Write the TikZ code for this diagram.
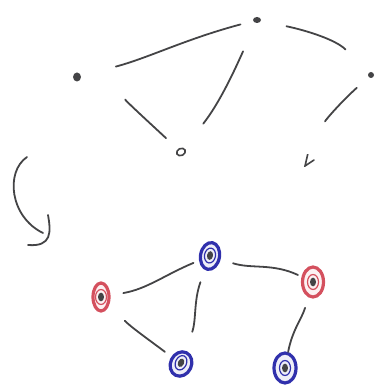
\documentclass[tikz,border=0pt]{standalone}
\usepackage{tikz}
\usetikzlibrary{shapes.geometric}
\definecolor{pencil}{RGB}{68,68,70}
\definecolor{redpen}{RGB}{212,80,94}
\definecolor{bluepen}{RGB}{48,48,172}
\tikzset{
  pen/.style={draw=pencil,line width=1.8pt,line cap=round},
  dot/.style={ellipse,fill=pencil,inner sep=0pt},
  ring/.style={ellipse,draw=#1,line width=3.2pt,inner sep=0pt,fill=#1!8,
    path picture={
      \draw[#1,line width=1.2pt] (path picture bounding box.center) ellipse (5.5pt and 7.5pt);
      \fill[pencil] (path picture bounding box.center) ellipse (3pt and 4.4pt);}},
}
\begin{document}
\begin{tikzpicture}[x=1pt,y=1pt]
\useasboundingbox (0,0) rectangle (381,387);
% top graph:
\node[dot,minimum width=8pt,minimum height=9pt] (t1) at (77,310) {};
\node[dot,minimum width=8pt,minimum height=6pt] (t2) at (257,367) {};
\node[dot,minimum width=6pt,minimum height=6pt] (t3) at (371,312) {};
\node[ellipse,draw=pencil,line width=1.6pt,inner sep=0pt,minimum width=9pt,minimum height=7pt,rotate=25] (t4) at (181,235) {};
\node[inner sep=0pt,minimum size=12pt,path picture={
  \draw[pen,line width=1.6pt] ([xshift=-1pt,yshift=8pt]path picture bounding box.center) -- ([xshift=-4pt,yshift=-5pt]path picture bounding box.center) -- ([xshift=5pt,yshift=1pt]path picture bounding box.center);}] (t5) at (309,226) {};
\draw[pen,shorten <=26pt,shorten >=33pt] (t2) to[out=-12,in=135] (t3);
\draw[pen,shorten <=36pt,shorten >=13pt] (t1) to[out=15,in=195] (t2);
\draw[pen,shorten <=31pt,shorten >=31pt] (t2) to[out=246,in=50] (t4);
\draw[pen,shorten <=49pt,shorten >=16pt] (t1) to[out=-25,in=135] (t4);
\draw[pen,shorten <=16pt,shorten >=36pt] (t3) to[out=222,in=68] (t5);
% arrow:
\draw[pen] (27,230) .. controls (5,215) and (10,170) .. (43,154);
\draw[pen] (48,172) .. controls (51,155) and (52,140) .. (28,142);
% bottom graph:
\node[ring=redpen,minimum width=16pt,minimum height=28pt] (b1) at (101,90) {};
\node[ring=bluepen,minimum width=19pt,minimum height=27pt,rotate=-10] (b2) at (210,131) {};
\node[ring=redpen,minimum width=21pt,minimum height=30pt] (b3) at (313,105) {};
\node[ring=bluepen,minimum width=21pt,minimum height=25pt,rotate=-25] (b4) at (181,23) {};
\node[ring=bluepen,minimum width=22pt,minimum height=30pt] (b5) at (285,19) {};
\draw[pen,shorten <=13pt,shorten >=6pt] (b1) to[out=10,in=205] (b2);
\draw[pen,shorten <=13pt,shorten >=4pt] (b2) to[out=-15,in=155] (b3);
\draw[pen,shorten <=13pt,shorten >=20pt] (b2) to[out=253,in=78] (b4);
\draw[pen,shorten <=22pt,shorten >=8pt] (b1) to[out=-45,in=150] (b4);
\draw[pen,shorten <=11pt,shorten >=0pt] (b3) to[out=253,in=79] (b5);
\end{tikzpicture}
\end{document}
